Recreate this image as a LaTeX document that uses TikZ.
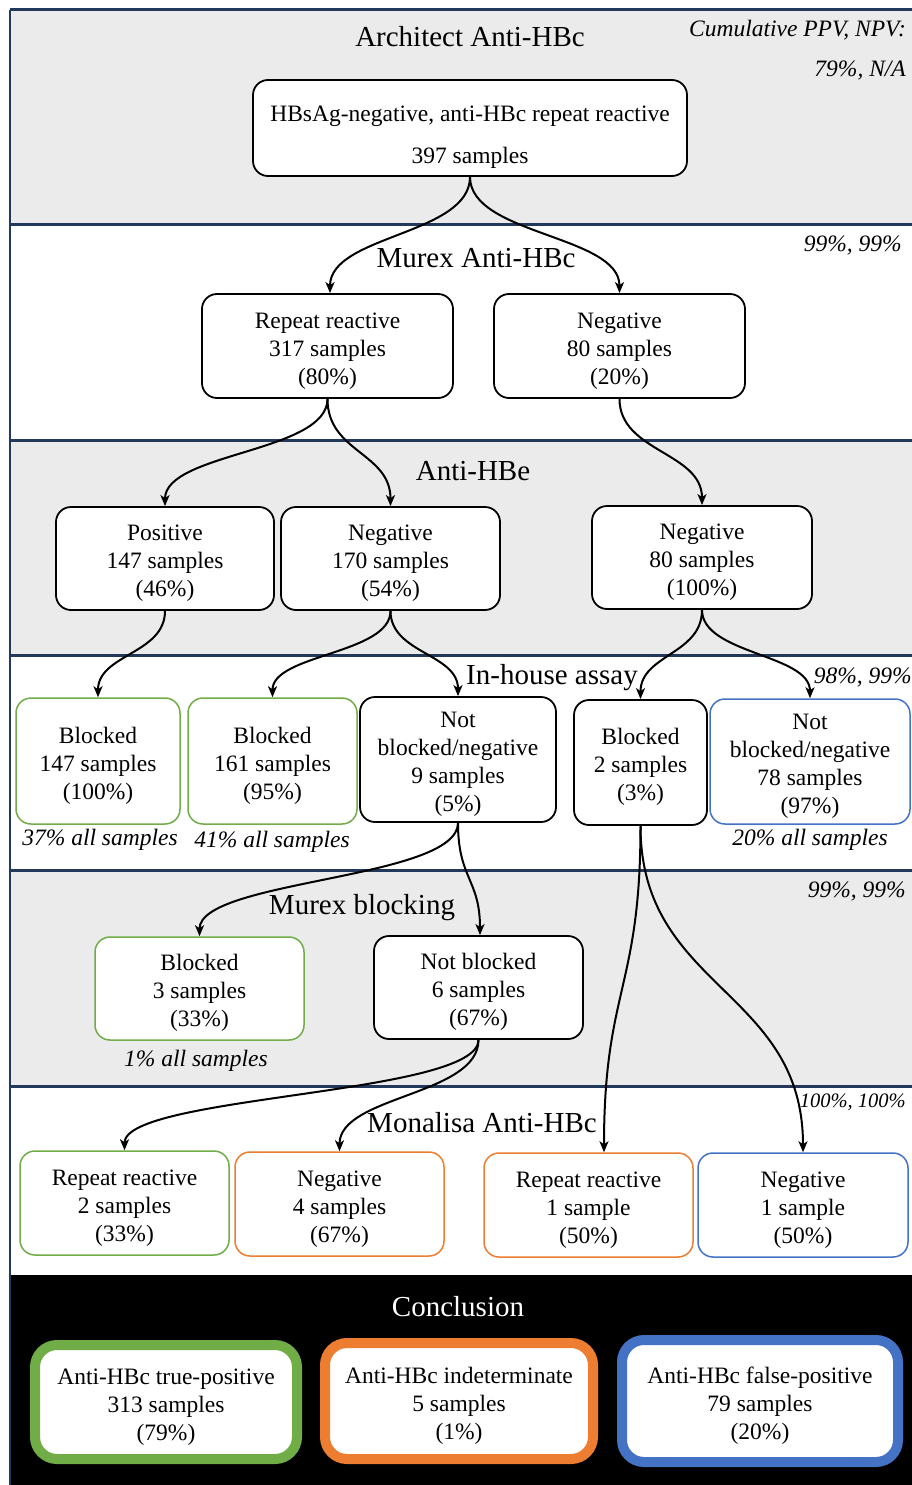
\documentclass[tikz,border=0pt]{standalone}
\usepackage{fontspec}
\setmainfont{Liberation Serif}
\usetikzlibrary{arrows.meta,calc}
\definecolor{gband}{HTML}{EBEBEB}
\definecolor{navy}{HTML}{22395C}
\definecolor{cgreen}{HTML}{70AD47}
\definecolor{corange}{HTML}{ED7D31}
\definecolor{cblue}{HTML}{4472C4}
\newcommand{\bodyfont}{\fontsize{23.5}{28}\selectfont}
\newcommand{\titlefont}{\fontsize{29}{34}\selectfont}
\newcommand{\notefont}{\fontsize{23.5}{26}\selectfont\itshape}
\newcommand{\upstr}{\rule{0pt}{25pt}}
\begin{document}
\begin{tikzpicture}[x=1pt,y=-1pt,
  bx/.style={draw=black, line width=1.8pt, rounded corners=15pt, fill=white, align=center, inner sep=0pt, font=\bodyfont},
  gbx/.style={bx, draw=cgreen, line width=1.5pt},
  obx/.style={bx, draw=corange, line width=1.5pt},
  bbx/.style={bx, draw=cblue, line width=1.5pt},
  cbx/.style={bx, line width=10pt, rounded corners=22pt},
  ttl/.style={font=\titlefont, inner sep=0pt},
  note/.style={font=\notefont, inner sep=0pt},
  sep/.style={draw=navy, line width=3pt},
  scurve/.style={to path={let \p1=(\tikztostart), \p2=(\tikztotarget) in .. controls (\x1,{0.5*(\y1+\y2)}) and (\x2,{0.5*(\y1+\y2)}) .. (\tikztotarget)}},
  conn/.style={line width=2pt, -{Stealth[length=11pt,width=9pt,inset=3pt]}, scurve},
]
\useasboundingbox (0,0) rectangle (912,1485);
% bands
\fill[gband] (10,10) rectangle (912,224);
\fill[white] (10,224) rectangle (912,440);
\fill[gband] (10,440) rectangle (912,655);
\fill[white] (10,655) rectangle (912,870);
\fill[gband] (10,870) rectangle (912,1086);
\fill[white] (10,1086) rectangle (912,1275);
\fill[black] (10,1275) rectangle (912,1485);
\draw[sep] (10,10) -- (912,10);
\draw[sep] (10,224) -- (912,224);
\draw[sep] (10,440) -- (912,440);
\draw[sep] (10,655) -- (912,655);
\draw[sep] (10,870) -- (912,870);
\draw[sep] (10,1086) -- (912,1086);
\draw[draw=navy, line width=2pt] (10,10) -- (10,1485);
% titles
\node[ttl] (t1) at (470,37) {Architect Anti-HBc};
\node[ttl] (t2) at (476,258) {Murex Anti-HBc};
\node[ttl] (t3) at (473,471) {Anti-HBe};
\node[ttl] (t4) at (552,678) {In-house assay};
\node[ttl] (t5) at (362,908) {Murex blocking};
\node[ttl] (t6) at (482,1123) {Monalisa Anti-HBc};
\node[ttl, text=white] (t7) at (458,1307) {Conclusion};
% notes
\node[note, anchor=east] (p0) at (906,30) {Cumulative PPV, NPV:};
\node[note, anchor=east] (p1) at (906,70) {79\%, N/A};
\node[note, anchor=east] (p2) at (902,245) {99\%, 99\%};
\node[note, anchor=east] (p3) at (912,677) {98\%, 99\%};
\node[note, anchor=east] (p4) at (906,891) {99\%, 99\%};
\node[note, anchor=east, font=\fontsize{20.5}{24}\selectfont\itshape] (p5) at (906,1102) {100\%, 100\%};
\node[note] (s1) at (100,840) {37\% all samples};
\node[note] (s2) at (272,842) {41\% all samples};
\node[note] (s3) at (810,840) {20\% all samples};
\node[note] (s4) at (196,1061) {1\% all samples};
% boxes
\node[bx, minimum width=434, minimum height=96] (n0) at (470,128) {\rule{0pt}{35pt}HBsAg-negative, anti-HBc repeat reactive\\[14pt]397 samples};
\node[bx, minimum width=251, minimum height=104] (m1) at (327.5,346) {\upstr Repeat reactive\\317 samples\\(80\%)};
\node[bx, minimum width=251, minimum height=104] (m2) at (619.5,346) {\upstr Negative\\80 samples\\(20\%)};
\node[bx, minimum width=218, minimum height=103] (e1) at (165,558.5) {\upstr Positive\\147 samples\\(46\%)};
\node[bx, minimum width=219, minimum height=103] (e2) at (390.5,558.5) {\upstr Negative\\170 samples\\(54\%)};
\node[bx, minimum width=220, minimum height=103] (e3) at (702,557.5) {\upstr Negative\\80 samples\\(100\%)};
\node[gbx, minimum width=164, minimum height=126] (h1) at (98,761) {\upstr Blocked\\147 samples\\(100\%)};
\node[gbx, minimum width=169, minimum height=126] (h2) at (272.5,761) {\upstr Blocked\\161 samples\\(95\%)};
\node[bx, minimum width=196, minimum height=125] (h3) at (458,759.5) {\upstr Not\\blocked/negative\\9 samples\\(5\%)};
\node[bx, minimum width=133, minimum height=125] (h4) at (640.5,762.5) {\upstr Blocked\\2 samples\\(3\%)};
\node[bbx, minimum width=200, minimum height=125] (h5) at (810,761.5) {\upstr Not\\blocked/negative\\78 samples\\(97\%)};
\node[gbx, minimum width=209, minimum height=103] (b1) at (199.5,988.5) {\upstr Blocked\\3 samples\\(33\%)};
\node[bx, minimum width=209, minimum height=103] (b2) at (478.5,987.5) {\upstr Not blocked\\6 samples\\(67\%)};
\node[gbx, minimum width=209, minimum height=104] (l1) at (124.5,1203) {\upstr Repeat reactive\\2 samples\\(33\%)};
\node[obx, minimum width=209, minimum height=104] (l2) at (339.5,1204) {\upstr Negative\\4 samples\\(67\%)};
\node[obx, minimum width=209, minimum height=104] (l3) at (588.5,1205) {\upstr Repeat reactive\\1 sample\\(50\%)};
\node[bbx, minimum width=210, minimum height=104] (l4) at (803,1205) {\upstr Negative\\1 sample\\(50\%)};
\node[cbx, draw=cgreen, minimum width=262, minimum height=114] (c1) at (166,1402) {\upstr Anti-HBc true-positive\\313 samples\\(79\%)};
\node[cbx, draw=corange, minimum width=268, minimum height=116] (c2) at (459,1401) {\upstr Anti-HBc indeterminate\\5 samples\\(1\%)};
\node[cbx, draw=cblue, minimum width=276, minimum height=122] (c3) at (760,1401) {\upstr Anti-HBc false-positive\\79 samples\\(20\%)};
% connectors
\draw[conn] (n0.south) to ([xshift=2.5pt]m1.north);
\draw[conn] (n0.south) to (m2.north);
\draw[conn] (m1.south) to (e1.north);
\draw[conn] (m1.south) to (e2.north);
\draw[conn] (m2.south) to (e3.north);
\draw[conn] (e1.south) to (h1.north);
\draw[conn] (e2.south) to (h2.north);
\draw[conn] (e2.south) to (h3.north);
\draw[conn] (e3.south) to (h4.north);
\draw[conn] (e3.south) to (h5.north);
\draw[conn] (h3.south) to (b1.north);
\draw[conn] (h3.south) to ([xshift=1.5pt]b2.north);
\draw[conn] (b2.south) to (l1.north);
\draw[conn] (b2.south) to (l2.north);
\draw[conn] (h4.south) to ([xshift=15.5pt]l3.north);
\draw[conn] (h4.south) to (l4.north);
\end{tikzpicture}
\end{document}
